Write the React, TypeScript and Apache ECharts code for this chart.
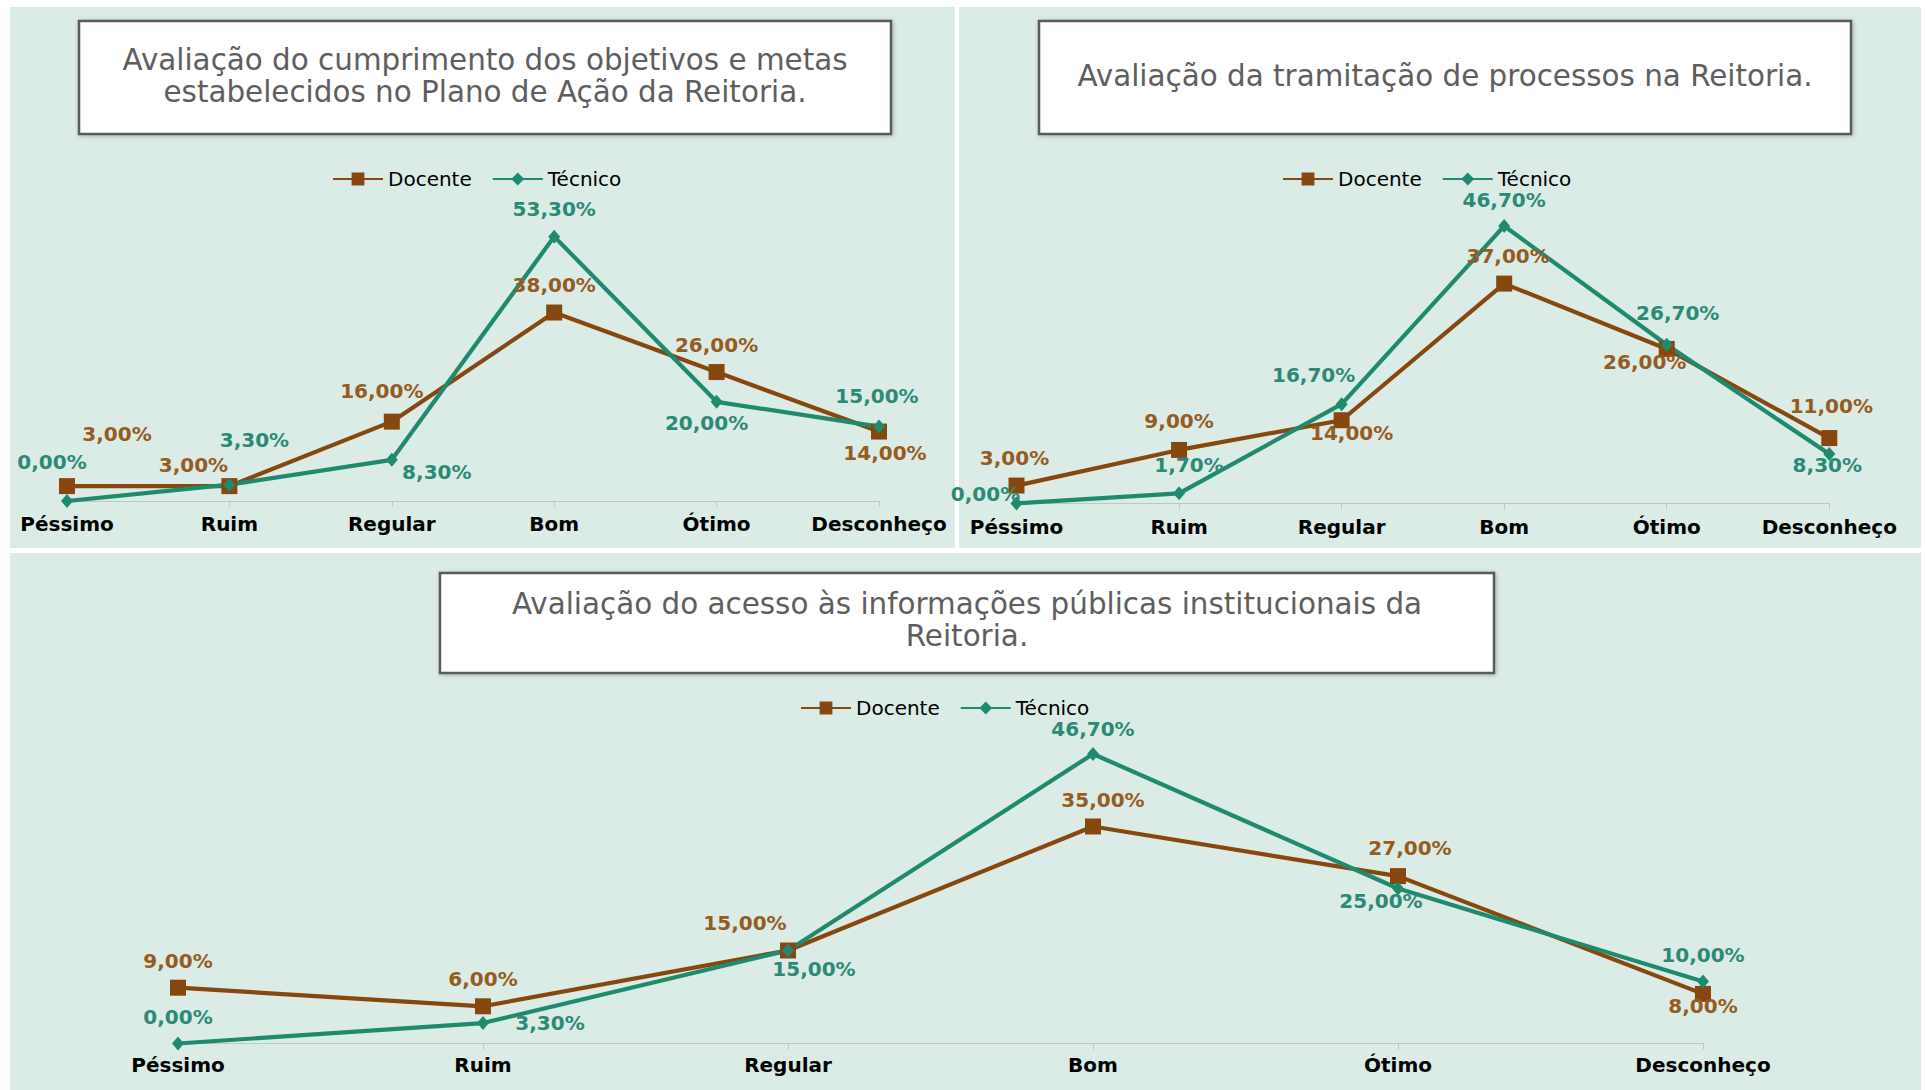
import React, { useEffect, useRef } from 'react';
import * as echarts from 'echarts';

// ---------- data ----------
const categories = ['Péssimo', 'Ruim', 'Regular', 'Bom', 'Ótimo', 'Desconheço'];
const seriesNames = ['Docente', 'Técnico'];

const titleObjetivos = ['Avaliação do cumprimento dos objetivos e metas', 'estabelecidos no Plano de Ação da Reitoria.'];
const docenteObjetivos = [3, 3, 16, 38, 26, 14];
const tecnicoObjetivos = [0, 3.3, 8.3, 53.3, 20, 15];

const titleTramitacao = ['Avaliação da tramitação de processos na Reitoria.'];
const docenteTramitacao = [3, 9, 14, 37, 26, 11];
const tecnicoTramitacao = [0, 1.7, 16.7, 46.7, 26.7, 8.3];

const titleAcesso = ['Avaliação do acesso às informações públicas institucionais da', 'Reitoria.'];
const docenteAcesso = [9, 6, 15, 35, 27, 8];
const tecnicoAcesso = [0, 3.3, 15, 46.7, 25, 10];

// ---------- layout (label offsets, px) ----------
const offDocObj = [[50, -52], [-36, -21], [-10, -31], [0, -28], [0, -27], [6, 21]];
const offTecObj = [[-15, -39], [25, -45], [45, 12], [0, -28], [-10, 21], [-2, -31]];
const offDocTram = [[-2, -28], [0, -29], [10, 13], [4, -28], [-22, 13], [2, -32]];
const offTecTram = [[-31, -9], [10, -28], [-28, -29], [0, -26], [11, -32], [-2, 11]];
const offDocAc = [[0, -27], [0, -27], [-43, -28], [10, -27], [12, -28], [0, 12]];
const offTecAc = [[0, -27], [67, 0], [26, 18], [0, -25], [-17, 12], [0, -27]];

const DOC_LINE = '#87480f';
const TEC_LINE = '#1f8a6e';
const DOC_LABEL = '#955c22';
const TEC_LABEL = '#2b8a76';
const PANEL_BG = '#dbebe6';
const FONT = '"DejaVu Sans", sans-serif';

const fmt = (v: number) => v.toFixed(2).replace('.', ',') + '%';

const panels = [
  {
    title: titleObjetivos, doc: docenteObjetivos, tec: tecnicoObjetivos, offDoc: offDocObj, offTec: offTecObj,
    grid: { left: 67, top: 203.4, width: 812, height: 297.6 }, yMax: 60, labelMargin: 13,
    legend: { left: 327, top: 164 },
    box: { x: 79, y: 21, width: 812, height: 113 }, titleX: 485, titleY: 76, titleLH: 32,
  },
  {
    title: titleTramitacao, doc: docenteTramitacao, tec: tecnicoTramitacao, offDoc: offDocTram, offTec: offTecTram,
    grid: { left: 1016.5, top: 206.4, width: 812.8, height: 297 }, yMax: 50, labelMargin: 14,
    legend: { left: 1277, top: 164 },
    box: { x: 1039, y: 21, width: 812, height: 113 }, titleX: 1445, titleY: 76, titleLH: 32,
  },
  {
    title: titleAcesso, doc: docenteAcesso, tec: tecnicoAcesso, offDoc: offDocAc, offTec: offTecAc,
    grid: { left: 178, top: 733.5, width: 1525, height: 310 }, yMax: 50, labelMargin: 11,
    legend: { left: 795, top: 693 },
    box: { x: 440, y: 573, width: 1054, height: 100 }, titleX: 967, titleY: 620, titleLH: 32,
  },
];

function buildOption() {
  const grids: any[] = [];
  const xAxes: any[] = [];
  const yAxes: any[] = [];
  const series: any[] = [];
  const legends: any[] = [];
  const graphics: any[] = [];

  const panelRects = [
    { x: 10, y: 7, width: 945, height: 541 },
    { x: 959, y: 7, width: 962, height: 541 },
    { x: 10, y: 553, width: 1911, height: 537 },
  ];
  panelRects.forEach((r) => {
    graphics.push({ type: 'rect', z: -10, shape: r, style: { fill: PANEL_BG }, silent: true });
  });

  panels.forEach((p, i) => {
    grids.push({ ...p.grid, containLabel: false });
    xAxes.push({
      type: 'category', gridIndex: i, data: categories, boundaryGap: false, z: 1,
      axisLine: { lineStyle: { color: '#c0c7c5', width: 1.2 } },
      axisTick: { show: true, length: 6, lineStyle: { color: '#c0c7c5' } },
      axisLabel: { color: '#000', fontFamily: FONT, fontWeight: 'bold', fontSize: 20, margin: p.labelMargin, interval: 0 },
      splitLine: { show: false },
    });
    yAxes.push({ type: 'value', gridIndex: i, min: 0, max: p.yMax, show: false, splitLine: { show: false } });

    const mk = (vals: number[], offs: number[][], name: string, lineColor: string, labelColor: string, symbol: string, size: any) => ({
      type: 'line', name, xAxisIndex: i, yAxisIndex: i,
      data: vals.map((v, k) => ({ value: v, label: { offset: offs[k] } })),
      symbol, symbolSize: size,
      lineStyle: { color: lineColor, width: 4.2 },
      itemStyle: { color: lineColor },
      label: {
        show: true, position: 'inside', formatter: (d: any) => fmt(d.value),
        color: labelColor, fontFamily: FONT, fontWeight: 'bold', fontSize: 20,
      },
      emphasis: { disabled: true },
    });
    series.push(mk(p.doc, p.offDoc, seriesNames[0], DOC_LINE, DOC_LABEL, 'rect', 16));
    series.push(mk(p.tec, p.offTec, seriesNames[1], TEC_LINE, TEC_LABEL, 'diamond', [12, 14]));

    legends.push({
      left: p.legend.left, top: p.legend.top, data: seriesNames, itemWidth: 50, itemHeight: 16, itemGap: 20,
      textStyle: { color: '#000', fontFamily: FONT, fontSize: 20 }, selectedMode: false,
    });

    graphics.push({
      type: 'rect', z: 1, shape: p.box,
      style: { fill: '#ffffff', stroke: '#5a5a5a', lineWidth: 2.5, shadowBlur: 4, shadowColor: 'rgba(0,0,0,0.25)', shadowOffsetX: 1, shadowOffsetY: 1 },
      silent: true,
    });
    graphics.push({
      type: 'text', z: 2, x: p.titleX, y: p.titleY,
      style: {
        text: p.title.join('\n'), align: 'center', verticalAlign: 'middle', fill: '#5e5e5e',
        fontFamily: FONT, fontSize: 29.4, lineHeight: p.titleLH,
      },
      silent: true,
    });
  });

  return {
    animation: false,
    backgroundColor: '#ffffff',
    grid: grids, xAxis: xAxes, yAxis: yAxes, series, legend: legends,
    graphic: { elements: graphics },
  };
}

export default function App() {
  const ref = useRef<HTMLDivElement>(null);
  useEffect(() => {
    if (!ref.current) return;
    const chart = echarts.init(ref.current, undefined, { renderer: 'svg' });
    chart.setOption(buildOption() as any);
    return () => chart.dispose();
  }, []);
  return <div ref={ref} style={{ position: 'absolute', left: 0, top: 0, width: 1925, height: 1090 }} />;
}
